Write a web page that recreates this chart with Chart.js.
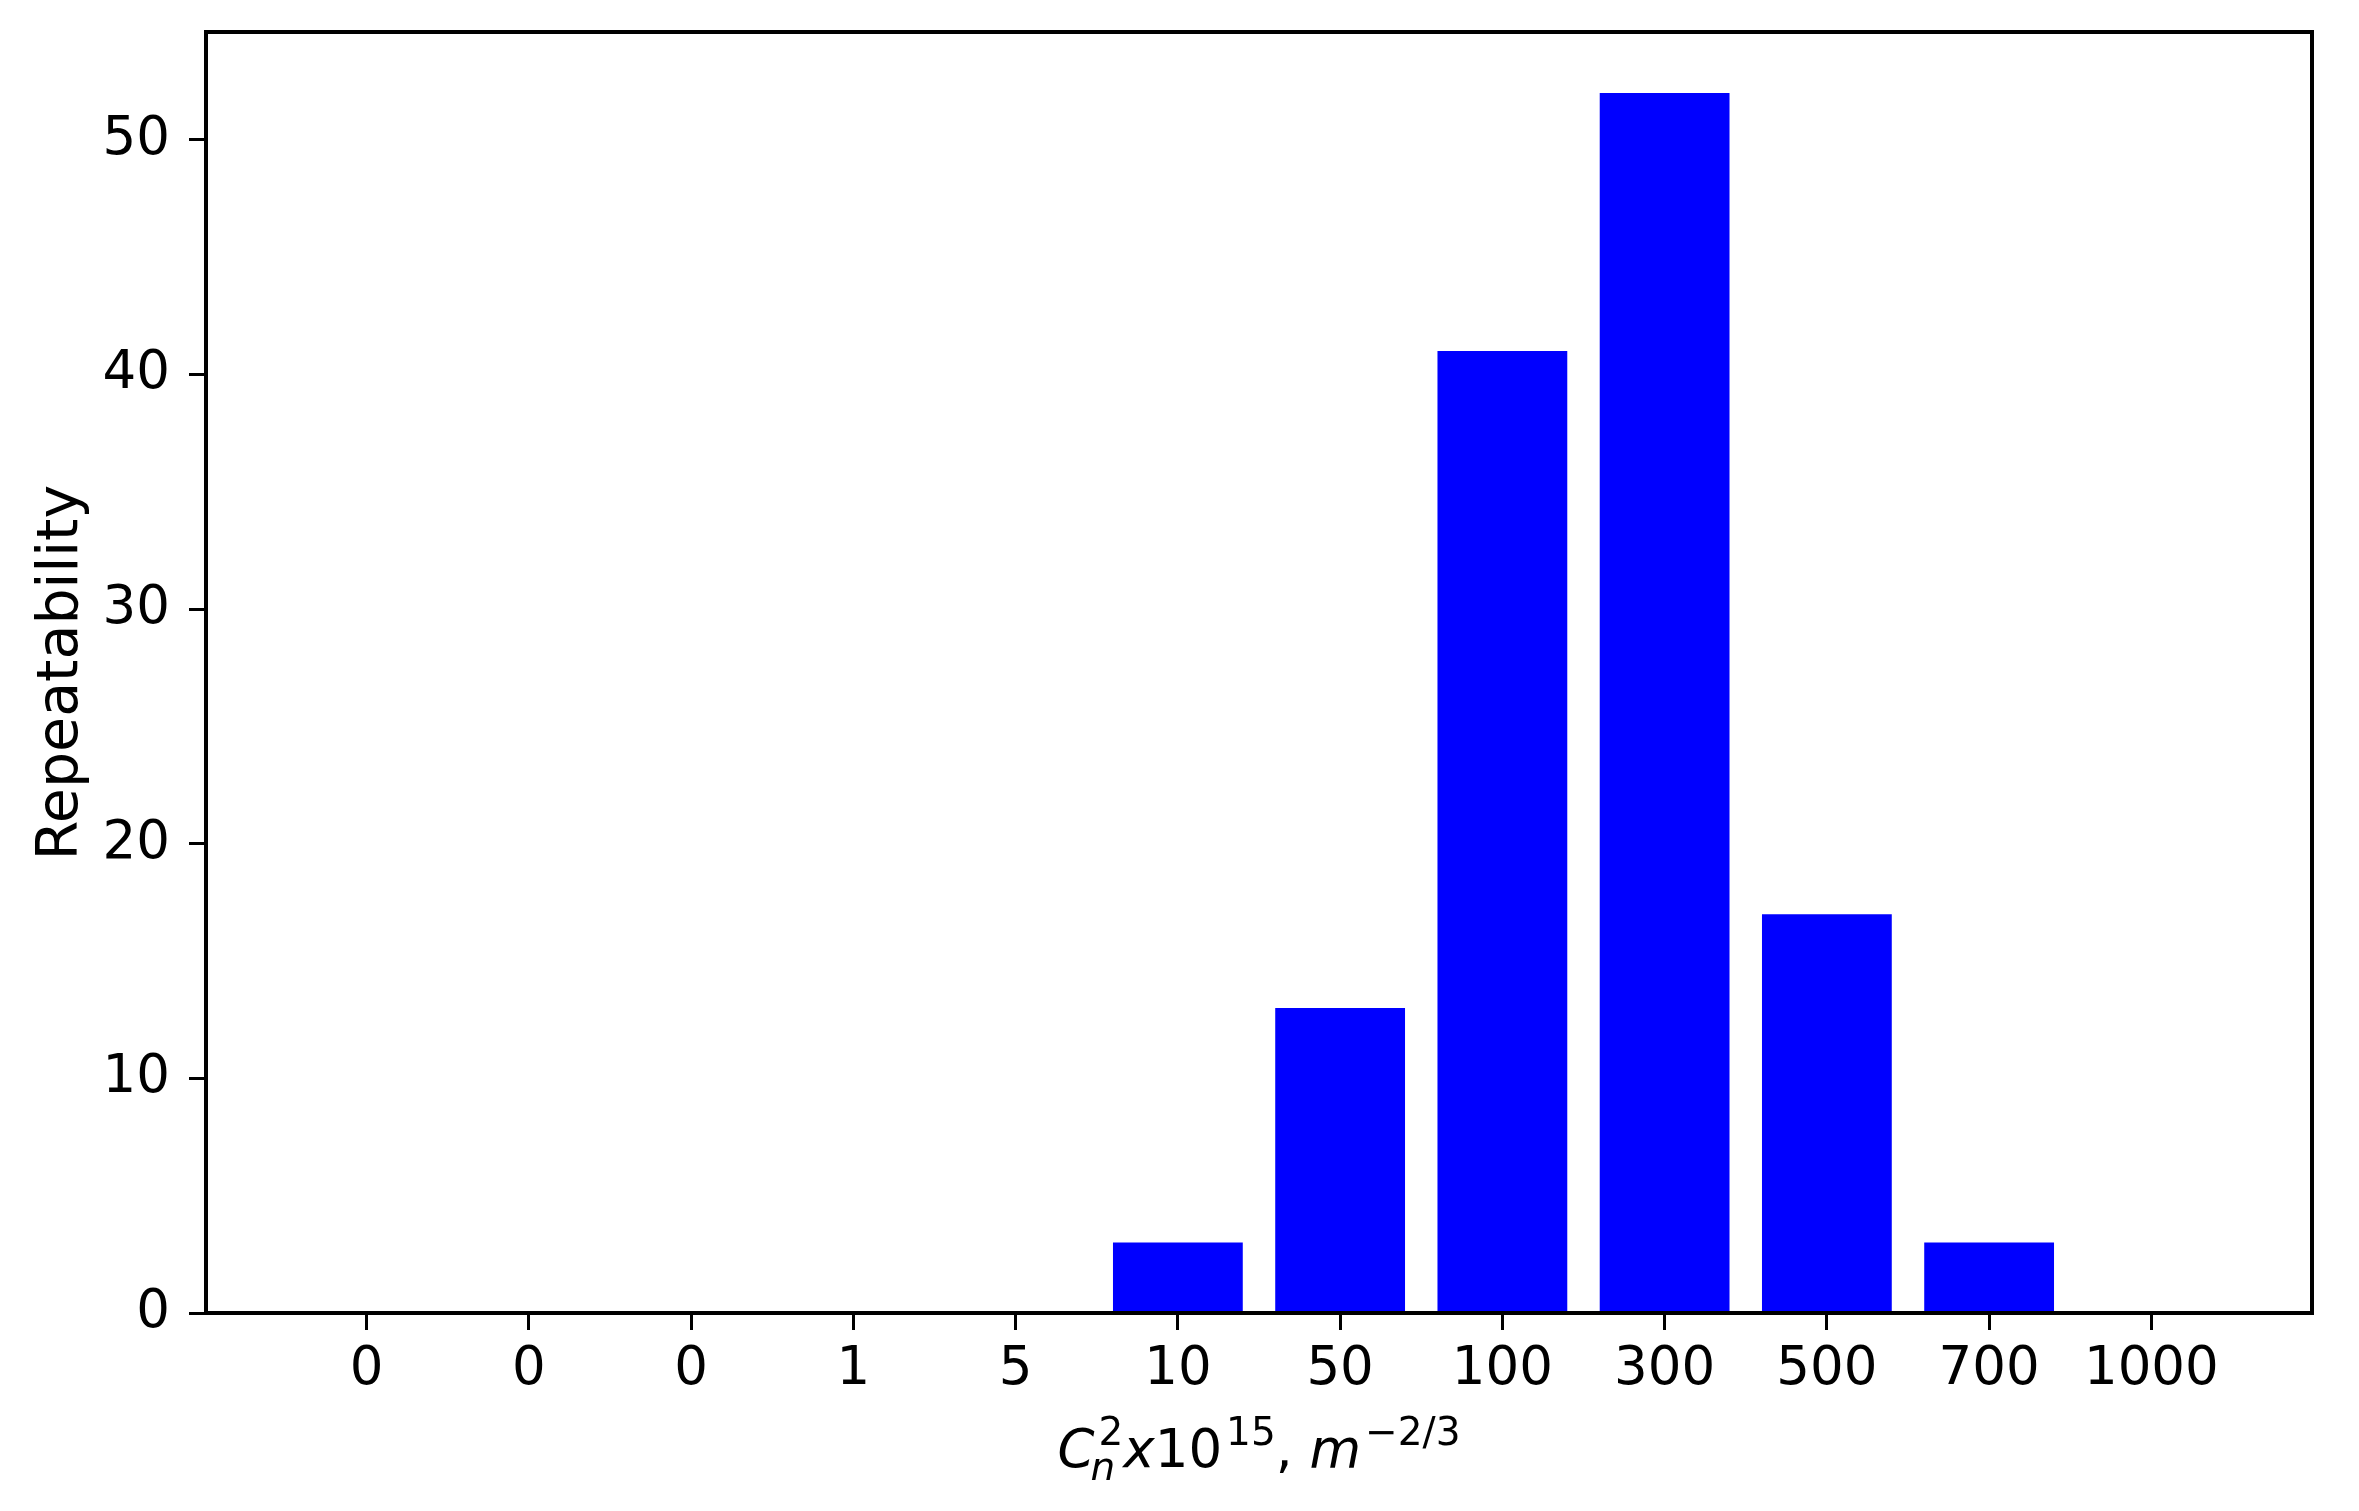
<!DOCTYPE html>
<html lang="en">

<head>
  <meta charset="UTF-8">
  <script src="https://cdn.jsdelivr.net/npm/chart.js"></script>
  <title>Repeatability</title>
  <style>
    body {
      margin: 0;
      background: #fff;
    }
  </style>
</head>

<body>
  <canvas id="myChart" width="2359" height="1511"></canvas>
  <script>
    // categories on the x axis (as printed under the ticks)
    const categories = ['0', '0', '0', '1', '5', '10', '50', '100', '300', '500', '700', '1000'];
    // bar heights
    const repeatability = [0, 0, 0, 0, 0, 3, 13, 41, 52, 17, 3, 0];
    // y tick labels
    const yTicks = [0, 10, 20, 30, 40, 50];
    // x axis label pieces: base text, then sub/superscript
    const xLabelParts = [
      { text: 'C', italic: true, sub: 'n', sup: '2' },
      { text: 'x', italic: true },
      { text: '10', sup: '15' },
      { text: ', ' },
      { text: 'm', italic: true, sup: '\u22122/3' }
    ];
    const yLabel = 'Repeatability';

    const FONT = 'DejaVu Sans';
    const SIZE = 53;
    const SCRIPT = 39;

    // full box round the plot area, like matplotlib spines
    const framePlugin = {
      id: 'frame',
      afterDatasetsDraw(chart) {
        const a = chart.chartArea;
        const ctx = chart.ctx;
        ctx.save();
        ctx.strokeStyle = '#000';
        ctx.lineWidth = 4;
        ctx.strokeRect(a.left, a.top, a.right - a.left, a.bottom - a.top);
        ctx.restore();
      }
    };

    // x label with sub/superscripts
    const xLabelPlugin = {
      id: 'xLabel',
      afterDraw(chart) {
        const ctx = chart.ctx;
        const a = chart.chartArea;
        const baseY = 1467;
        const font = (it, sz) => (it ? 'italic ' : '') + sz + 'px "' + FONT + '"';
        // measure
        let total = 0;
        const widths = xLabelParts.map(p => {
          ctx.font = font(p.italic, SIZE);
          const w = ctx.measureText(p.text).width;
          let sw = 0;
          if (p.sub) { ctx.font = font(true, SCRIPT); sw = Math.max(sw, ctx.measureText(p.sub).width); }
          if (p.sup) { ctx.font = font(false, SCRIPT); sw = Math.max(sw, ctx.measureText(p.sup).width); }
          total += w + sw + (sw ? 4 : 0);
          return [w, sw];
        });
        let x = (a.left + a.right) / 2 - total / 2;
        ctx.save();
        ctx.fillStyle = '#000';
        ctx.textBaseline = 'alphabetic';
        ctx.textAlign = 'left';
        xLabelParts.forEach((p, i) => {
          ctx.font = font(p.italic, SIZE);
          ctx.fillText(p.text, x, baseY);
          x += widths[i][0];
          if (p.sup) {
            ctx.font = font(false, SCRIPT);
            ctx.fillText(p.sup, x + 4, baseY - 22);
          }
          if (p.sub) {
            ctx.font = font(true, SCRIPT);
            ctx.fillText(p.sub, x - 4, baseY + 13);
          }
          if (widths[i][1]) x += widths[i][1] + 4;
        });
        ctx.restore();
      }
    };

    const ctx = document.getElementById('myChart');

    new Chart(ctx, {
      type: 'bar',
      data: {
        datasets: [{
          data: repeatability.map((v, i) => ({ x: i, y: v })),
          backgroundColor: '#0000ff',
          borderWidth: 0,
          barPercentage: 0.8,
          categoryPercentage: 1
        }]
      },
      options: {
        responsive: false,
        animation: false,
        devicePixelRatio: 1,
        layout: { padding: { top: 32, right: 47, left: 0, bottom: 0 } },
        plugins: {
          legend: { display: false },
          tooltip: { enabled: false }
        },
        scales: {
          x: {
            type: 'linear',
            offset: false,
            min: -0.99,
            max: categories.length - 1 + 0.99,
            afterFit(s) { s.height = 198; s.paddingLeft = 0; s.paddingRight = 0; },
            afterBuildTicks(s) { s.ticks = categories.map((_, i) => ({ value: i })); },
            grid: { offset: false, drawOnChartArea: false, drawTicks: true, tickLength: 17, tickWidth: 3, tickColor: '#000' },
            border: { display: true, color: '#000', width: 4 },
            ticks: {
              autoSkip: false,
              maxRotation: 0,
              padding: 8,
              color: '#000',
              font: { family: FONT, size: SIZE },
              callback: v => categories[v]
            }
          },
          y: {
            min: 0,
            max: 54.6,
            afterFit(s) { s.width = 206; s.paddingTop = 0; s.paddingBottom = 0; },
            afterBuildTicks(s) { s.ticks = yTicks.map(v => ({ value: v })); },
            grid: { drawOnChartArea: false, drawTicks: true, tickLength: 17, tickWidth: 3, tickColor: '#000' },
            border: { display: true, color: '#000', width: 4 },
            ticks: {
              padding: 19,
              color: '#000',
              font: { family: FONT, size: SIZE }
            },
            title: {
              display: true,
              text: yLabel,
              color: '#000',
              font: { family: FONT, size: 57 },
              padding: { top: 28, bottom: 0 }
            }
          }
        }
      },
      plugins: [framePlugin, xLabelPlugin]
    });
  </script>
</body>

</html>
